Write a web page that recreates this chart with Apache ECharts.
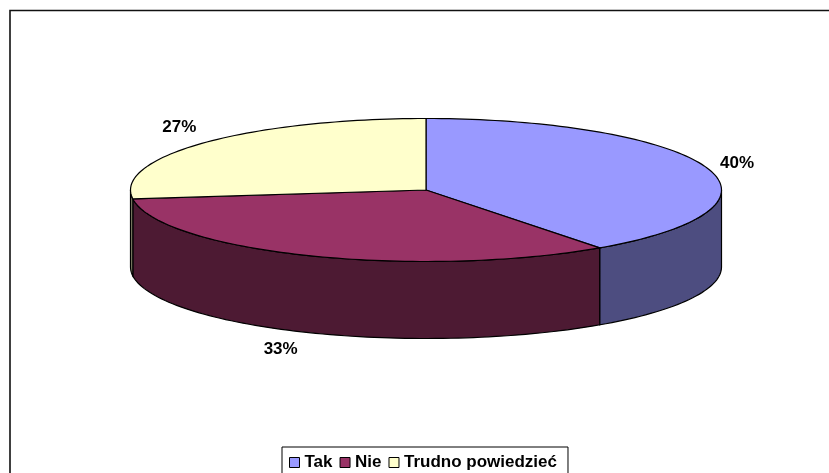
<!DOCTYPE html>
<html>
<head>
<meta charset="utf-8">
<style>
  html, body { margin: 0; padding: 0; background: #fff; }
  #main { width: 829px; height: 473px; }
</style>
<script src="https://cdn.jsdelivr.net/npm/echarts@6/dist/echarts.min.js"></script>
</head>
<body>
<div id="main"></div>
<script>
var categories = ['Tak', 'Nie', 'Trudno powiedzieć'];
var values = [40, 33, 27];
var topColors = ['#9999FF', '#993366', '#FFFFCC'];
var sideColors = ['#4D4D80', '#4D1A33', '#808066'];

// pie geometry, ellipse on screen
var cx = 426, cy = 190, rx = 295.5, ry = 71.5, depth = 77;
// label distance from the rim, per slice
var labelShift = [[30, -5], [-28, 94], [-25, -15]];

var total = values.reduce(function (a, b) { return a + b; }, 0);

function rimPoint(deg, dy) {
  var r = deg * Math.PI / 180;
  return [cx + rx * Math.sin(r), cy - ry * Math.cos(r) + (dy || 0)];
}

function arc(from, to, dy) {
  var pts = [];
  var n = Math.max(2, Math.ceil(Math.abs(to - from) / 1.5));
  for (var i = 0; i <= n; i++) {
    pts.push(rimPoint(from + (to - from) * i / n, dy));
  }
  return pts;
}

function makeRender(idx) {
  return function (params, api) {
    var before = 0;
    for (var i = 0; i < idx; i++) before += values[i];
    var a0 = before / total * 360;
    var a1 = a0 + api.value(0) / total * 360;
    var children = [];

    // wall only on the front half of the ellipse
    var s0 = Math.max(a0, 90), s1 = Math.min(a1, 270);
    if (s1 > s0) {
      children.push({
        type: 'polygon',
        shape: { points: arc(s0, s1, 0).concat(arc(s1, s0, depth)) },
        style: { fill: sideColors[idx], stroke: '#000', lineWidth: 1.2 }
      });
    }

    children.push({
      type: 'polygon',
      shape: { points: [[cx, cy]].concat(arc(a0, a1, 0)) },
      style: { fill: topColors[idx], stroke: '#000', lineWidth: 1.2 }
    });

    var mid = rimPoint((a0 + a1) / 2, 0);
    children.push({
      type: 'text',
      x: mid[0] + labelShift[idx][0],
      y: mid[1] + labelShift[idx][1],
      style: {
        text: Math.round(api.value(0) / total * 100) + '%',
        fill: '#000',
        font: 'bold 17px "Liberation Sans", Arial, sans-serif',
        align: 'center',
        verticalAlign: 'middle'
      }
    });

    return { type: 'group', children: children };
  };
}

var series = categories.map(function (name, idx) {
  return {
    name: name,
    type: 'custom',
    coordinateSystem: 'none',
    silent: true,
    itemStyle: { color: topColors[idx] },
    data: [[values[idx]]],
    renderItem: makeRender(idx)
  };
});

var myChart = echarts.init(document.getElementById('main'), null, { renderer: 'canvas' });

var option = {
  animation: false,
  backgroundColor: '#fff',
  graphic: [
    {
      type: 'polyline',
      silent: true,
      shape: { points: [[10, 473], [10, 10.5], [829, 10.5]] },
      style: { fill: null, stroke: '#111', lineWidth: 1.6 }
    }
  ],
  legend: {
    data: categories,
    left: 282,
    top: 447,
    orient: 'horizontal',
    selectedMode: false,
    icon: 'rect',
    itemWidth: 10,
    itemHeight: 10,
    itemGap: 7,
    padding: [7, 11, 7, 7],
    borderColor: '#000',
    borderWidth: 1,
    itemStyle: { borderColor: '#000', borderWidth: 1 },
    textStyle: {
      color: '#000',
      fontFamily: '"Liberation Sans", Arial, sans-serif',
      fontWeight: 'bold',
      fontSize: 17
    }
  },
  series: series
};

option && myChart.setOption(option);
</script>
</body>
</html>
